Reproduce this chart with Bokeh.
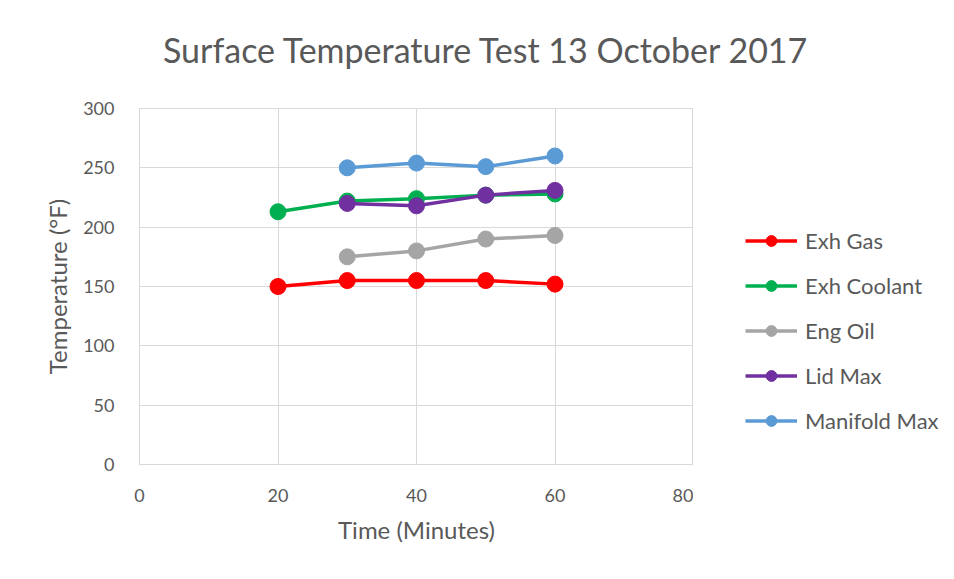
from bokeh.plotting import figure
from bokeh.models import Range1d, Legend, LegendItem, FixedTicker, Div
from bokeh.layouts import row, column
from bokeh.embed import file_html
from bokeh.resources import INLINE

time_a = [20, 30, 40, 50, 60]
time_b = [30, 40, 50, 60]
exh_gas = [150, 155, 155, 155, 152]
exh_coolant = [213, 222, 224, 227, 228]
eng_oil = [175, 180, 190, 193]
lid_max = [220, 218, 227, 231]
manifold_max = [250, 254, 251, 260]

series = [
    ("Exh Gas", time_a, exh_gas, "#FF0000"),
    ("Exh Coolant", time_a, exh_coolant, "#00B050"),
    ("Eng Oil", time_b, eng_oil, "#A5A5A5"),
    ("Lid Max", time_b, lid_max, "#7030A0"),
    ("Manifold Max", time_b, manifold_max, "#5B9BD5"),
]

TITLE = "Surface Temperature Test 13 October 2017"
FONT = "Lato"
TXT = "#595959"
GRID = "#d9d9d9"

title_div = Div(
    text=('<div style="font-family:Lato;font-size:34px;color:#595959;'
          'line-height:41px;margin-top:29px;margin-left:163px;'
          'white-space:nowrap;">' + TITLE + '</div>'),
    width=954, height=80, margin=0)

p = figure(width=693, height=499, output_backend="svg", toolbar_location=None,
           x_range=Range1d(0, 80), y_range=Range1d(0, 300),
           min_border_left=139, min_border_right=0, min_border_top=28,
           min_border_bottom=115)
p.outline_line_color = GRID
p.outline_line_width = 1

for ax in (p.xaxis, p.yaxis):
    ax.axis_line_color = GRID
    ax.major_tick_line_color = None
    ax.minor_tick_line_color = None
    ax.major_label_text_font = FONT
    ax.major_label_text_font_size = "18px"
    ax.major_label_text_color = TXT
    ax.axis_label_text_font = FONT
    ax.axis_label_text_font_size = "24px"
    ax.axis_label_text_color = TXT
    ax.axis_label_text_font_style = "normal"

p.xaxis.ticker = FixedTicker(ticks=[0, 20, 40, 60, 80])
p.yaxis.ticker = FixedTicker(ticks=[0, 50, 100, 150, 200, 250, 300])
p.xaxis.major_label_standoff = 18
p.yaxis.major_label_standoff = 19
p.xaxis.axis_label = "Time (Minutes)"
p.yaxis.axis_label = "Temperature (°F)"
p.xaxis.axis_label_standoff = 10
p.yaxis.axis_label_standoff = 8

p.xgrid.grid_line_color = GRID
p.ygrid.grid_line_color = GRID

# legend panel: a figure of its own whose renderers stay out of view
q = figure(width=261, height=499, output_backend="svg", toolbar_location=None,
           x_range=Range1d(1000, 1001), y_range=Range1d(1000, 1001),
           x_axis_type=None, y_axis_type=None, min_border=0)
q.outline_line_color = None
q.grid.visible = False

items = []
for name, xs, ys, col in series:
    p.line(xs, ys, line_color=col, line_width=3.5)
    p.scatter(xs, ys, size=16, fill_color=col, line_color=col)
    l = q.line(xs, ys, line_color=col, line_width=3.5)
    s = q.scatter(xs, ys, size=14, fill_color=col, line_color=col)
    items.append(LegendItem(label=name, renderers=[l, s]))

legend = Legend(items=items, location=(52, 30), orientation="vertical",
                label_text_font=FONT, label_text_font_size="22px",
                label_text_color=TXT, glyph_width=52, glyph_height=27,
                label_height=27, spacing=18, padding=0, margin=0,
                border_line_color=None, background_fill_alpha=0,
                label_standoff=8)
q.add_layout(legend, "center")

layout = column(title_div, row(p, q, spacing=0), spacing=0)
open("out.html", "w").write(file_html(layout, INLINE))
